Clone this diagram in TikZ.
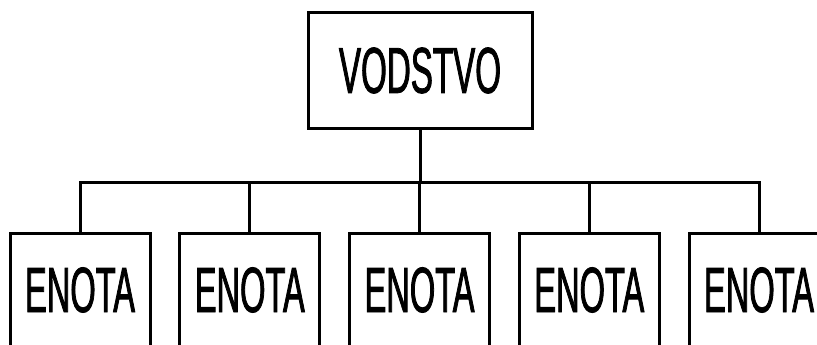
\documentclass[tikz,border=0pt]{standalone}
\usepackage{fontspec}
\setmainfont[FakeStretch=0.51,FakeBold=1.2]{Liberation Sans}
\tikzstyle{every node}+=[inner sep=0pt,node distance=169.75pt]
\tikzstyle{unit}=[draw,minimum width=140pt,minimum height=114pt,font=\fontsize{64}{70}\selectfont]
\tikzstyle{head}=[draw,minimum width=224pt,minimum height=115pt,font=\fontsize{65}{70}\selectfont]
\begin{document}
\begin{tikzpicture}[x=1pt,y=-1pt,line width=3pt]
\useasboundingbox (0,0) rectangle (817,345);
\clip (0,0) rectangle (817,345);

\node [head] (vodstvo) at (420,70.5) {VODSTVO};
\coordinate (bus) at (420,182);

\node [unit] (e1) at (80,290) {ENOTA};
\node [unit,right of=e1] (e2) {ENOTA};
\node [unit,right of=e2] (e3) {ENOTA};
\node [unit,right of=e3] (e4) {ENOTA};
\node [unit,right of=e4] (e5) {ENOTA};

\draw (vodstvo) -- (bus);
\foreach \n in {1,...,5}
  \draw (e\n.north) |- (bus);
\end{tikzpicture}
\end{document}
